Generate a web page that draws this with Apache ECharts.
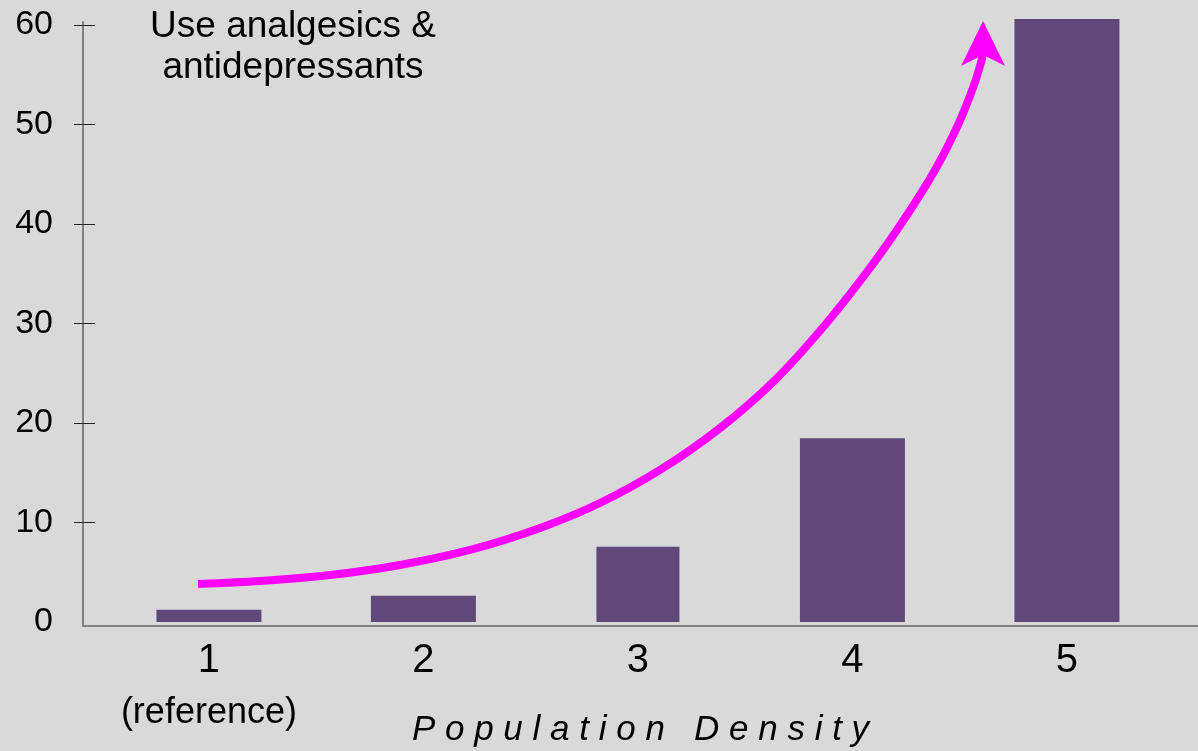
<!DOCTYPE html>
<html>
<head>
<meta charset="utf-8">
<script src="https://cdn.jsdelivr.net/npm/echarts@6/dist/echarts.min.js"></script>
<style>
  html, body { margin: 0; padding: 0; background: #d9d9d9; }
  #main { width: 1198px; height: 751px; }
</style>
</head>
<body>
<div id="main"></div>
<script>
// categories on the x axis (second line only under the reference group)
var categories = ['1', '2', '3', '4', '5']
var categorySub = ['(reference)', '', '', '', '']
// bar heights
var values = [1.24, 2.64, 7.57, 18.46, 60.6]
var yTicks = [0, 10, 20, 30, 40, 50, 60]
// the magenta trend arrow, in data units
var arrowX = [0.949, 1.238, 1.565, 1.891, 2.217, 2.544, 2.823, 3.103, 3.383, 3.639, 3.872, 4.082, 4.245, 4.385, 4.492, 4.562, 4.600, 4.609]
var arrowY = [3.82, 4.12, 4.72, 5.73, 7.24, 9.45, 11.96, 15.28, 19.50, 24.32, 29.85, 35.58, 40.60, 45.43, 49.95, 53.67, 56.28, 57.29]
var arrowHead = [4.609, 60.4]

var font = "'Liberation Sans', Arial, sans-serif"
var xMin = 0.413
var xMax = 5.611

var wideBars = []
var narrowBars = []
values.forEach(function(v, i) {
  if (i === 2) {
    narrowBars.push([i + 1, v])
  } else {
    wideBars.push([i + 1, v])
  }
})

var arrowData = arrowX.map(function(x, i) { return [x, arrowY[i]] })

var myChart = echarts.init(document.getElementById('main'))
var option = {
  backgroundColor: '#d9d9d9',
  animation: false,
  grid: {
    left: 83,
    right: 0,
    top: 22,
    bottom: 125,
    containLabel: false,
    outerBoundsMode: 'none'
  },
  graphic: [
    {
      type: 'text',
      x: 293,
      y: 6,
      style: {
        text: 'Use analgesics &\nantidepressants',
        textAlign: 'center',
        textVerticalAlign: 'top',
        fontSize: 37,
        lineHeight: 41,
        fontFamily: font,
        fill: '#000'
      }
    }
  ],
  xAxis: [
    {
      type: 'value',
      min: xMin,
      max: xMax,
      position: 'bottom',
      name: 'P o p u l a t i o n   D e n s i t y',
      nameLocation: 'middle',
      nameGap: 87,
      nameMoveOverlap: false,
      nameTextStyle: {
        fontSize: 35,
        fontStyle: 'italic',
        fontFamily: font,
        color: '#000'
      },
      axisLine: {
        show: true,
        onZero: false,
        lineStyle: { color: '#808080', width: 2 }
      },
      axisTick: { show: false },
      splitLine: { show: false },
      axisLabel: {
        customValues: [1, 2, 3, 4, 5],
        margin: 14,
        formatter: function(v) {
          var i = Math.round(v) - 1
          if (categorySub[i]) {
            return '{n|' + categories[i] + '}\n{r|' + categorySub[i] + '}'
          }
          return '{n|' + categories[i] + '}'
        },
        rich: {
          n: { fontSize: 40, lineHeight: 42, fontFamily: font, color: '#000' },
          r: { fontSize: 36, lineHeight: 62, fontFamily: font, color: '#000' }
        }
      }
    },
    {
      // hidden twin axis so the narrower bar keeps its own width
      type: 'value',
      min: xMin,
      max: xMax,
      position: 'bottom',
      show: false
    }
  ],
  yAxis: [
    {
      type: 'value',
      min: -0.4,
      max: 60.3,
      position: 'left',
      axisLine: {
        show: true,
        onZero: false,
        lineStyle: { color: '#808080', width: 2 }
      },
      axisTick: {
        show: true,
        customValues: yTicks.slice(1),
        length: 9,
        lineStyle: { color: '#222', width: 1 }
      },
      splitLine: { show: false },
      axisLabel: {
        customValues: yTicks,
        margin: 30,
        fontSize: 34,
        fontFamily: font,
        color: '#000'
      }
    },
    {
      // second half of the crossing tick marks
      type: 'value',
      min: -0.4,
      max: 60.3,
      position: 'left',
      axisLine: { show: false },
      axisTick: {
        show: true,
        inside: true,
        customValues: yTicks.slice(1),
        length: 12,
        lineStyle: { color: '#222', width: 1 }
      },
      axisLabel: { show: false },
      splitLine: { show: false }
    }
  ],
  series: [
    {
      type: 'bar',
      xAxisIndex: 0,
      yAxisIndex: 0,
      barWidth: 105,
      clip: false,
      itemStyle: { color: '#60497a' },
      data: wideBars
    },
    {
      type: 'bar',
      xAxisIndex: 1,
      yAxisIndex: 0,
      barWidth: 83,
      clip: false,
      itemStyle: { color: '#60497a' },
      data: narrowBars
    },
    {
      type: 'line',
      xAxisIndex: 0,
      yAxisIndex: 0,
      smooth: 0.3,
      symbol: 'none',
      clip: false,
      lineStyle: { color: '#ff00ff', width: 8, cap: 'butt' },
      data: arrowData,
      z: 5
    },
    {
      type: 'scatter',
      xAxisIndex: 0,
      yAxisIndex: 0,
      symbol: 'arrow',
      symbolSize: [33, 45],
      clip: false,
      itemStyle: { color: '#ff00ff', opacity: 1 },
      data: [arrowHead],
      z: 6
    }
  ]
}
myChart.setOption(option)
</script>
</body>
</html>
